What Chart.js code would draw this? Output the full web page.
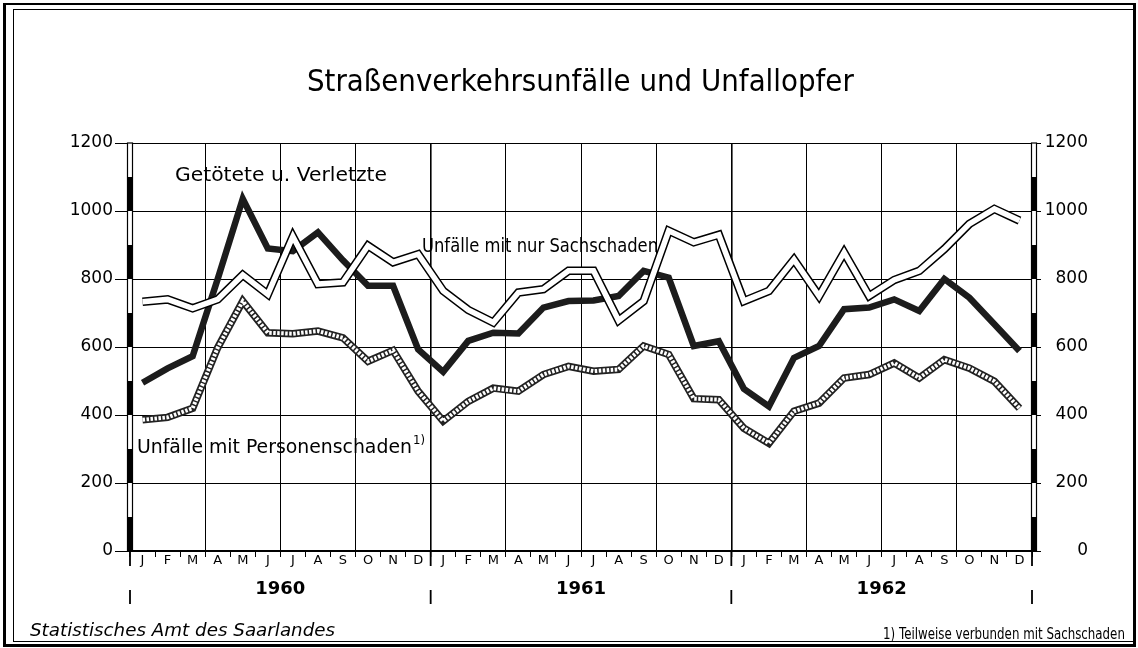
<!DOCTYPE html>
<html lang="de">
<head>
    <meta charset="UTF-8">
    <title>Straßenverkehrsunfälle und Unfallopfer</title>
    <script src="https://cdn.jsdelivr.net/npm/chart.js"></script>
    <style>
        body {
            margin: 0;
            background: #fff;
            font-family: 'DejaVu Sans', sans-serif;
        }
        #wrap {
            position: relative;
            width: 1138px;
            height: 648px;
            overflow: hidden;
        }
        #chart {
            position: absolute;
            left: 0;
            top: 0;
        }
        .frame-outer {
            position: absolute;
            left: 3px; top: 3px; right: 2px; bottom: 1px;
            border: 3px solid #000;
            border-top-width: 2px;
        }
        .frame-inner {
            position: absolute;
            left: 13px; top: 9px; right: 5px; bottom: 6px;
            border-left: 1px solid #000;
            border-top: 1px solid #000;
            border-bottom: 1px solid #000;
        }
        .lbl {
            position: absolute;
            white-space: nowrap;
            line-height: 1;
            color: #000;
            transform-origin: 0 0;
        }
    </style>
</head>
<body>
<div id="wrap">
    <canvas id="chart" width="1138" height="648"></canvas>
    <div class="frame-outer"></div>
    <div class="frame-inner"></div>

    <div class="lbl" data-w="547" style="left:307px;top:66px;font-size:30px;">Straßenverkehrsunfälle und Unfallopfer</div>
    <div class="lbl" data-w="212" style="left:175px;top:164px;font-size:20px;">Getötete u. Verletzte</div>
    <div class="lbl" data-w="236" style="left:422px;top:235px;font-size:20px;">Unfälle mit nur Sachschaden</div>
    <div class="lbl" data-w="275" style="left:137px;top:436px;font-size:20px;">Unfälle mit Personenschaden</div>
    <div class="lbl" data-w="12" style="left:413px;top:433px;font-size:13px;">1)</div>
    <div class="lbl" data-w="305" style="left:30px;top:621px;font-size:18px;font-style:italic;">Statistisches Amt des Saarlandes</div>
    <div class="lbl" data-w="242" style="left:883px;top:627px;font-size:15px;">1) Teilweise verbunden mit Sachschaden</div>
</div>

<script>
    // Monatswerte Jan 1960 - Dez 1962
    const months = ['J', 'F', 'M', 'A', 'M', 'J', 'J', 'A', 'S', 'O', 'N', 'D'];
    const monthLabels = [...months, ...months, ...months];
    const years = ['1960', '1961', '1962'];

    const getoetete = [495, 537, 573, 800, 1036, 890, 882, 937, 855, 780, 780, 593,
                       527, 618, 642, 640, 716, 735, 737, 750, 824, 804, 603, 617,
                       477, 425, 568, 603, 711, 716, 740, 706, 800, 745, 667, 588];
    const sachschaden = [733, 740, 714, 740, 812, 755, 925, 785, 790, 898, 849, 873,
                         765, 709, 672, 760, 770, 824, 824, 678, 735, 942, 908, 930,
                         735, 765, 857, 750, 878, 750, 797, 824, 888, 962, 1006, 972];
    const personenschaden = [386, 393, 420, 598, 735, 642, 639, 647, 627, 558, 590, 470,
                             382, 440, 479, 470, 519, 543, 529, 534, 603, 578, 448, 445,
                             361, 317, 411, 435, 509, 519, 553, 509, 563, 538, 499, 420];

    const yMin = 0;
    const yMax = 1200;
    const yStep = 200;

    Chart.defaults.font.family = "'DejaVu Sans', sans-serif";
    Chart.defaults.color = '#000';

    // axis bars, year labels and year marks
    const decorPlugin = {
        id: 'decor',
        afterDraw(chart) {
            const ctx = chart.ctx;
            const x = chart.scales.x;
            const y = chart.scales.y;
            const area = chart.chartArea;
            const top = y.getPixelForValue(yMax);
            const bottom = y.getPixelForValue(yMin);
            ctx.save();

            [area.left, area.right + 2].forEach(cx => {
                ctx.fillStyle = '#fff';
                ctx.fillRect(cx - 2.5, top, 5, bottom - top);
                ctx.fillStyle = '#000';
                for (let v = yMin; v < yMax; v += yStep) {
                    const a = y.getPixelForValue(v + yStep / 2);
                    const b = y.getPixelForValue(v);
                    ctx.fillRect(cx - 2.5, a, 5, b - a);
                }
                ctx.strokeStyle = '#000';
                ctx.lineWidth = 1.2;
                ctx.strokeRect(cx - 2.5, top, 5, bottom - top);
            });

            ctx.fillStyle = '#000';
            ctx.font = "bold 18px 'DejaVu Sans'";
            ctx.textAlign = 'center';
            ctx.textBaseline = 'middle';
            years.forEach((yr, k) => {
                const cx = (x.getPixelForValue(k * 12) + x.getPixelForValue(k * 12 + 11)) / 2;
                ctx.fillText(yr, cx, 589);
            });

            ctx.strokeStyle = '#000';
            ctx.lineWidth = 1.8;
            for (let k = 0; k <= years.length; k++) {
                const bx = x.getPixelForValue(k * 12 - 0.5);
                ctx.beginPath();
                ctx.moveTo(bx, area.bottom);
                ctx.lineTo(bx, area.bottom + 15);
                ctx.moveTo(bx, 590);
                ctx.lineTo(bx, 604);
                ctx.stroke();
            }
            ctx.restore();
        }
    };

    const line = {
        tension: 0,
        pointRadius: 0,
        borderJoinStyle: 'miter',
        borderCapStyle: 'butt',
        fill: false
    };

    new Chart(document.getElementById('chart'), {
        type: 'line',
        data: {
            labels: monthLabels,
            datasets: [
                { ...line, label: 'Unfälle mit nur Sachschaden', data: sachschaden, borderColor: '#fff', borderWidth: 5.5, order: 0 },
                { ...line, label: 'Unfälle mit nur Sachschaden (Rand)', data: sachschaden, borderColor: '#000', borderWidth: 8.5, order: 1 },
                { ...line, label: 'Unfälle mit Personenschaden', data: personenschaden, borderColor: '#fff', borderWidth: 4, borderDash: [2.5, 1.5], order: 2 },
                { ...line, label: 'Unfälle mit Personenschaden (Rand)', data: personenschaden, borderColor: '#222', borderWidth: 7.5, order: 3 },
                { ...line, label: 'Getötete u. Verletzte', data: getoetete, borderColor: '#1c1c1c', borderWidth: 6.5, order: 4 }
            ]
        },
        options: {
            responsive: false,
            animation: false,
            layout: { padding: { top: 143, right: 50, left: 0, bottom: 0 } },
            plugins: {
                legend: { display: false },
                title: { display: false },
                tooltip: { enabled: false }
            },
            scales: {
                x: {
                    type: 'category',
                    offset: true,
                    border: { display: true, color: '#000', width: 2 },
                    grid: {
                        offset: true,
                        color: c => (c.index > 0 && c.index % 3 === 0) ? '#000' : 'rgba(0,0,0,0)',
                        lineWidth: c => (c.index % 12 === 0) ? 1.6 : 1,
                        tickColor: '#000',
                        tickWidth: 1,
                        tickLength: 6
                    },
                    ticks: {
                        autoSkip: false,
                        maxRotation: 0,
                        padding: -4,
                        font: { size: 13 }
                    },
                    afterFit: s => { s.height = 97; }
                },
                y: {
                    position: 'left',
                    min: yMin,
                    max: yMax,
                    border: { display: false },
                    grid: { color: '#000', lineWidth: 1, tickLength: 15 },
                    ticks: { stepSize: yStep, padding: 2, font: { size: 17 }, callback: v => String(v) },
                    afterFit: s => { s.width = 130; }
                },
                y2: {
                    position: 'right',
                    min: yMin,
                    max: yMax,
                    border: { display: false },
                    grid: { drawOnChartArea: false, color: '#000', tickLength: 9 },
                    ticks: { stepSize: yStep, padding: 4, crossAlign: 'far', font: { size: 17 }, callback: v => String(v) },
                    afterFit: s => { s.width = 56; }
                }
            }
        },
        plugins: [decorPlugin]
    });

    // squeeze the text labels to the width they have in the original
    function fitLabels() {
        document.querySelectorAll('.lbl').forEach(el => {
            el.style.transform = 'none';
            const w = parseFloat(el.dataset.w);
            const s = w / el.getBoundingClientRect().width;
            el.style.transform = 'scaleX(' + s.toFixed(3) + ')';
        });
    }
    fitLabels();
    if (document.fonts) document.fonts.ready.then(fitLabels);
</script>
</body>
</html>
